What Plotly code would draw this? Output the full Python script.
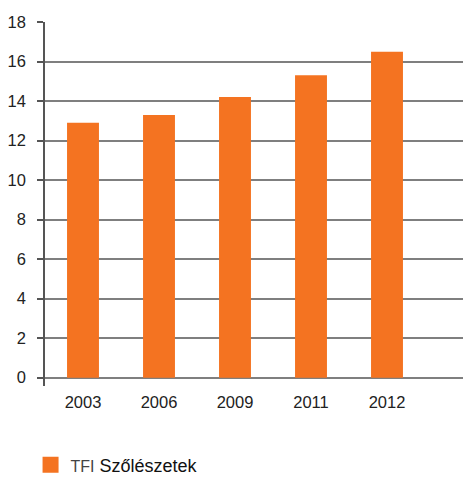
import plotly.graph_objects as go

# TFI Szőlészetek – values by year
years = ["2003", "2006", "2009", "2011", "2012"]
values = [12.9, 13.3, 14.2, 15.3, 16.5]
y_ticks = [0, 2, 4, 6, 8, 10, 12, 14, 16, 18]
series_name = "<span style='font-size:16px;color:#444'>TFI</span> <span style='font-size:18px;color:#111'>Szőlészetek</span>"

orange = "#F47321"
grid = "#7f7f7f"

fig = go.Figure()
fig.add_trace(go.Bar(
    x=years,
    y=values,
    width=0.42,
    marker=dict(color=orange, line=dict(width=0)),
    name=series_name,
    legendgroup="tfi",
    showlegend=False,
))
# legend key: a larger square swatch for the same series
fig.add_trace(go.Scatter(
    x=[None],
    y=[None],
    mode="markers",
    marker=dict(symbol="square", size=16, color=orange),
    name=series_name,
    legendgroup="tfi",
    showlegend=True,
))

fig.update_layout(
    width=463,
    height=477,
    margin=dict(l=45, r=0, t=22, b=91),
    paper_bgcolor="white",
    plot_bgcolor="white",
    font=dict(family="Liberation Sans, Arial, sans-serif", size=16, color="#222"),
    legend=dict(
        orientation="h",
        xref="container", yref="container",
        x=0.066, xanchor="left",
        y=0.025, yanchor="middle",
        font=dict(size=18, color="#111"),
        itemwidth=30,
        bgcolor="rgba(0,0,0,0)",
    ),
    xaxis=dict(
        type="category",
        range=[-0.5, 5.0],
        showgrid=False,
        showline=False,
        zeroline=False,
        ticks="outside",
        ticklen=1,
        tickcolor="rgba(0,0,0,0)",
        tickfont=dict(size=16.5, color="#222"),
    ),
    yaxis=dict(
        range=[-0.42, 18],
        tickvals=y_ticks,
        showgrid=True,
        gridcolor=grid,
        gridwidth=1.5,
        zeroline=False,
        showline=True,
        linecolor="#555",
        linewidth=1.5,
        ticks="outside",
        ticklen=6,
        tickcolor="#555",
        tickwidth=1.5,
        ticklabelstandoff=8,
        tickfont=dict(size=16.5, color="#222"),
    ),
)

fig.write_html("out.html")
